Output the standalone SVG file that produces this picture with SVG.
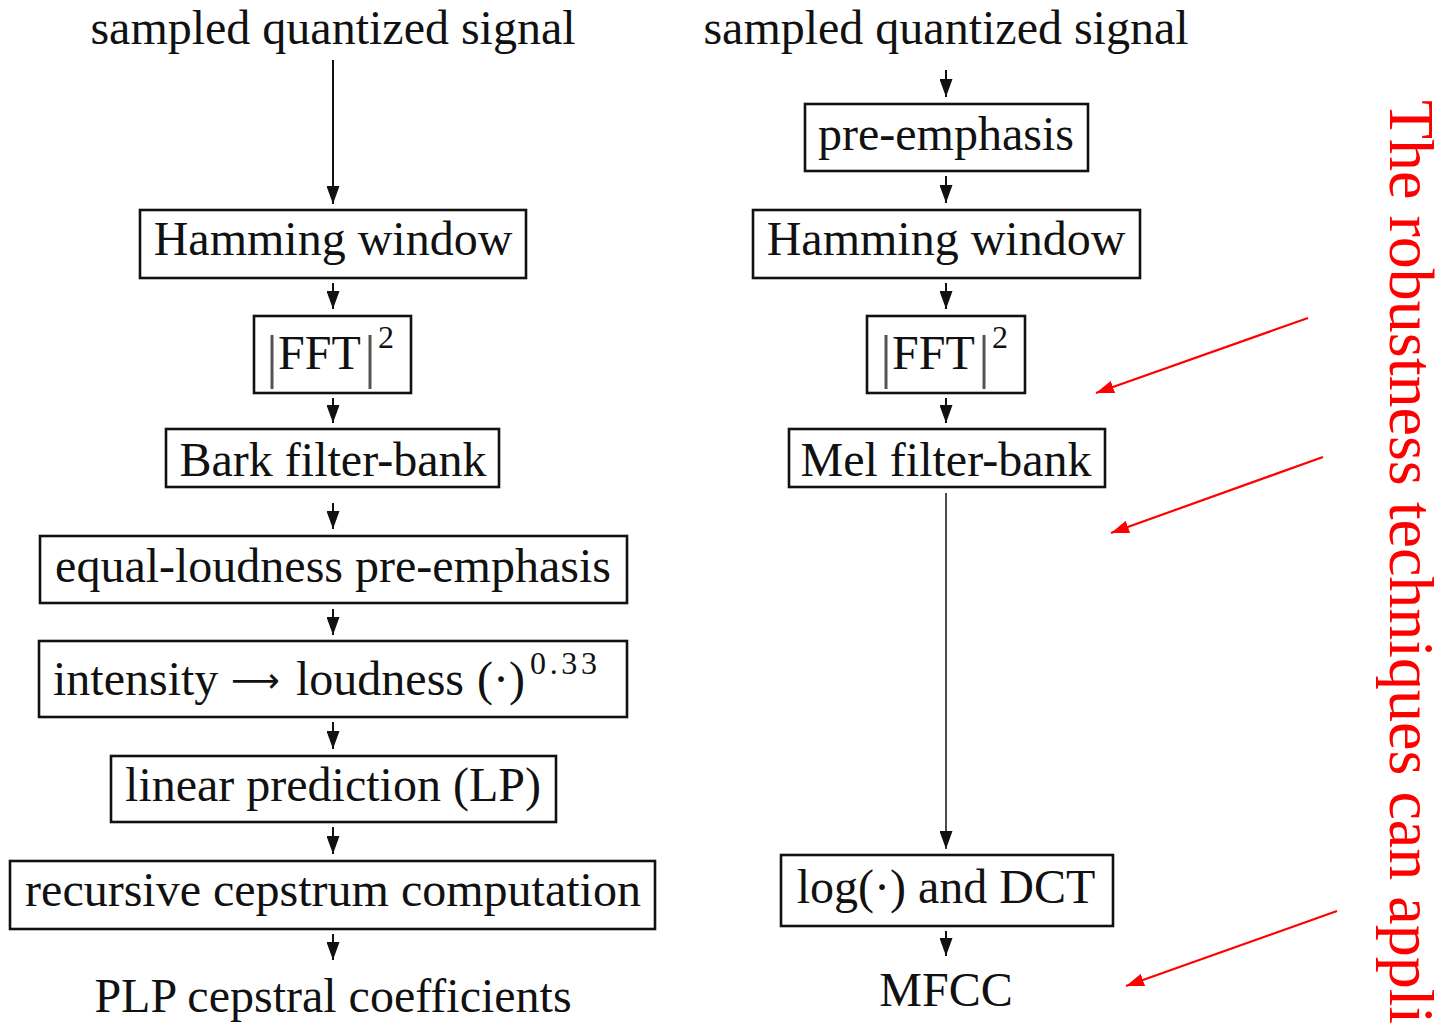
<svg xmlns="http://www.w3.org/2000/svg" width="1437" height="1023" viewBox="0 0 1437 1023">
<defs>
<style>
.t{font-family:"Liberation Serif","Times New Roman",serif;font-size:48px;fill:#111;}
.c{text-anchor:middle;}
.sup{font-size:32px;}
.bar{fill:#555;font-size:60px;}
.arr{font-family:"DejaVu Sans",sans-serif;font-size:34px;}
.box{fill:#fff;stroke:#111;stroke-width:2.6;}
.ar{stroke:#111;stroke-width:2;fill:none;marker-end:url(#ah);}
.arl{stroke:#111;stroke-width:1.5;fill:none;marker-end:url(#ah);}
.red{stroke:#ff0000;stroke-width:2.2;fill:none;marker-end:url(#rh);}
.rt{font-family:"Liberation Serif","Times New Roman",serif;font-size:64px;fill:#ff0000;}
</style>
<marker id="ah" viewBox="0 0 18 13" markerWidth="18" markerHeight="13" refX="18" refY="6.5" orient="auto" markerUnits="userSpaceOnUse"><path d="M0,0 L18,6.5 L0,13 z" fill="#111"/></marker>
<marker id="rh" viewBox="0 0 18 13" markerWidth="18" markerHeight="13" refX="18" refY="6.5" orient="auto" markerUnits="userSpaceOnUse"><path d="M0,0 L18,6.5 L0,13 z" fill="#ff0000"/></marker>
</defs>
<rect width="1437" height="1023" fill="#fff"/>

<g id="connectors">
<line class="ar" x1="333" y1="60" x2="333" y2="204"/>
<line class="ar" x1="333" y1="283" x2="333" y2="309"/>
<line class="ar" x1="333" y1="398" x2="333" y2="423"/>
<line class="ar" x1="333" y1="503" x2="333" y2="529"/>
<line class="ar" x1="333" y1="609" x2="333" y2="635"/>
<line class="ar" x1="333" y1="722" x2="333" y2="749"/>
<line class="ar" x1="333" y1="827" x2="333" y2="854"/>
<line class="ar" x1="333" y1="934" x2="333" y2="960"/>
<line class="ar" x1="946" y1="70" x2="946" y2="97"/>
<line class="ar" x1="946" y1="176" x2="946" y2="203"/>
<line class="ar" x1="946" y1="283" x2="946" y2="309"/>
<line class="ar" x1="946" y1="398" x2="946" y2="423"/>
<line class="arl" x1="946" y1="493" x2="946" y2="849"/>
<line class="ar" x1="946" y1="931" x2="946" y2="956"/>
<line class="red" x1="1308" y1="318" x2="1096" y2="393"/>
<line class="red" x1="1323" y1="457" x2="1111" y2="533"/>
<line class="red" x1="1337" y1="911" x2="1126" y2="986"/>
</g>

<g id="left-input"><text class="t c" x="333" y="44">sampled quantized signal</text></g>
<g id="left-hamming"><rect class="box" x="140" y="210" width="386" height="68"/><text class="t c" x="333" y="255">Hamming window</text></g>
<g id="left-fft"><rect class="box" x="254" y="316" width="157" height="77"/><text class="t" y="369"><tspan class="bar" x="266" y="376">|</tspan><tspan x="278" y="369">FFT</tspan><tspan class="bar" x="364" y="376">|</tspan><tspan class="sup" x="378" y="348">2</tspan></text></g>
<g id="left-bark"><rect class="box" x="166" y="429" width="333" height="58"/><text class="t c" x="333" y="476">Bark filter-bank</text></g>
<g id="left-equal"><rect class="box" x="40" y="536" width="587" height="67"/><text class="t c" x="333" y="582">equal-loudness pre-emphasis</text></g>
<g id="left-intensity"><rect class="box" x="39" y="641" width="588" height="76"/><text class="t" y="695"><tspan x="53">intensity</tspan><tspan class="arr" x="231" y="692" textLength="47">⟶</tspan><tspan x="296" y="695">loudness</tspan><tspan x="477">(·)</tspan><tspan class="sup" x="530" y="674" textLength="67">0.33</tspan></text></g>
<g id="left-lp"><rect class="box" x="111" y="756" width="445" height="66"/><text class="t c" x="333" y="801">linear prediction (LP)</text></g>
<g id="left-cepstrum"><rect class="box" x="10" y="861" width="645" height="68"/><text class="t c" x="333" y="906">recursive cepstrum computation</text></g>
<g id="left-output"><text class="t c" x="333" y="1012">PLP cepstral coefficients</text></g>

<g id="right-input"><text class="t c" x="946" y="44">sampled quantized signal</text></g>
<g id="right-preemph"><rect class="box" x="805" y="104" width="283" height="67"/><text class="t c" x="946" y="150">pre-emphasis</text></g>
<g id="right-hamming"><rect class="box" x="753" y="210" width="387" height="68"/><text class="t c" x="946" y="255">Hamming window</text></g>
<g id="right-fft"><rect class="box" x="867" y="316" width="158" height="77"/><text class="t" y="369"><tspan class="bar" x="880" y="376">|</tspan><tspan x="892" y="369">FFT</tspan><tspan class="bar" x="978" y="376">|</tspan><tspan class="sup" x="992" y="348">2</tspan></text></g>
<g id="right-mel"><rect class="box" x="789" y="429" width="316" height="58"/><text class="t c" x="946" y="476">Mel filter-bank</text></g>
<g id="right-logdct"><rect class="box" x="781" y="855" width="332" height="71"/><text class="t c" x="946" y="903">log(·) and DCT</text></g>
<g id="right-output"><text class="t c" x="946" y="1006">MFCC</text></g>

<g id="note"><text class="rt" transform="translate(1390,100) rotate(90)">The robustness techniques can appli</text></g>
</svg>
